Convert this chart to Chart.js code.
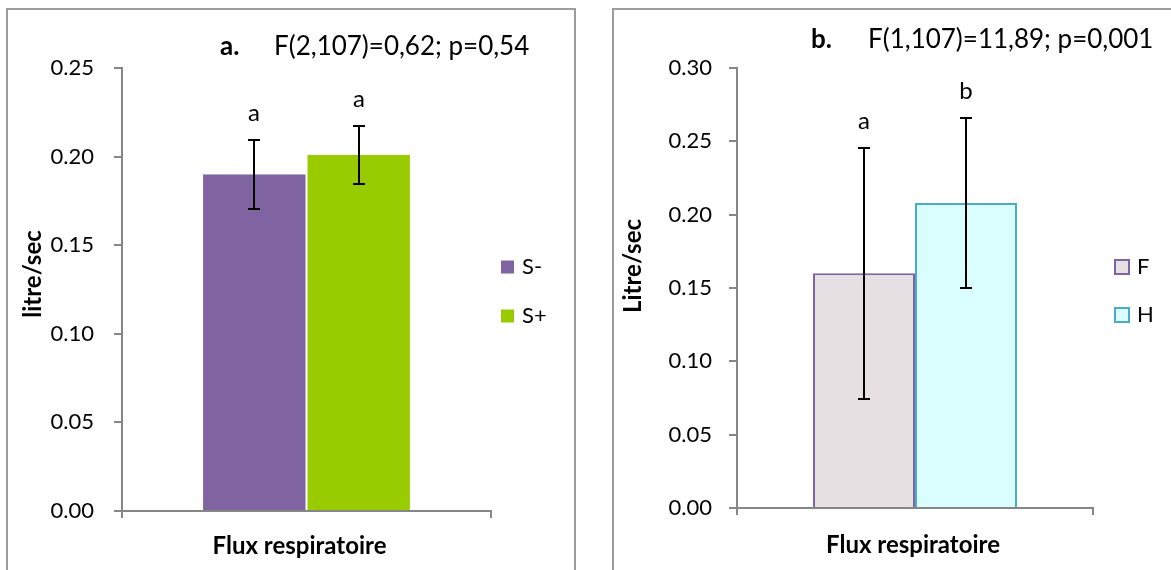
<!DOCTYPE html>
<html><head><meta charset="utf-8">
<script src="https://cdn.jsdelivr.net/npm/chart.js@4.4.1/dist/chart.umd.min.js"></script>
<style>
html,body{margin:0;padding:0;background:#fff;width:1171px;height:570px;overflow:hidden;position:relative;}
.frame{position:absolute;border:2px solid #9c9c9c;box-sizing:border-box;}
#fa{left:6px;top:8px;width:570px;height:600px;}
#fb{left:612px;top:8px;width:600px;height:600px;}
.wrap{position:absolute;top:0;height:570px;}
#wa{left:0;width:590px;}
#wb{left:595px;width:576px;}
canvas{display:block;}
</style></head><body>
<div class="frame" id="fa"></div><div class="frame" id="fb"></div>
<div class="wrap" id="wa"><canvas id="ca" width="590" height="570"></canvas></div>
<div class="wrap" id="wb"><canvas id="cb" width="576" height="570"></canvas></div>
<script>
// ---- data ----
const categories = ['Flux respiratoire'];

const seriesA = ['S-', 'S+'];
const valuesA = [0.190, 0.201];
const errorsA = [0.0195, 0.0165];
const lettersA = ['a', 'a'];
const yTicksA = ['0.00', '0.05', '0.10', '0.15', '0.20', '0.25'];
const titleA = ['a.', 'F(2,107)=0,62; p=0,54'];
const yTitleA = 'litre/sec';

const seriesB = ['F', 'H'];
const valuesB = [0.160, 0.208];
const errorsB = [0.0855, 0.058];
const lettersB = ['a', 'b'];
const yTicksB = ['0.00', '0.05', '0.10', '0.15', '0.20', '0.25', '0.30'];
const titleB = ['b.', 'F(1,107)=11,89; p=0,001'];
const yTitleB = 'Litre/sec';

// ---- styling ----
const FONT = 'Lato';
Chart.defaults.font.family = FONT;
Chart.defaults.font.size = 21;
Chart.defaults.color = '#000';
const AXIS = '#868686';

const decoPlugin = {
  id: 'deco',
  afterDatasetsDraw(chart, args, o) {
    const ctx = chart.ctx, y = chart.scales.y;
    ctx.save();
    // error bars + letters
    chart.data.datasets.forEach((ds, i) => {
      const bar = chart.getDatasetMeta(i).data[0];
      const v = ds.data[0], e = o.errors[i];
      const top = Math.round(y.getPixelForValue(v + e)), bot = Math.round(y.getPixelForValue(v - e));
      const x = Math.round(bar.x);
      ctx.strokeStyle = '#000'; ctx.lineWidth = 2;
      ctx.beginPath();
      ctx.moveTo(x, top); ctx.lineTo(x, bot);
      ctx.moveTo(x - 6, top); ctx.lineTo(x + 6, top);
      ctx.moveTo(x - 6, bot); ctx.lineTo(x + 6, bot);
      ctx.stroke();
      ctx.fillStyle = '#000';
      ctx.font = '24px ' + FONT;
      ctx.textAlign = 'center'; ctx.textBaseline = 'alphabetic';
      ctx.fillText(o.letters[i], x, top - 19);
    });
    // title
    ctx.textBaseline = 'middle'; ctx.textAlign = 'left';
    ctx.font = 'bold 26px ' + FONT;
    ctx.fillText(o.title[0], o.titlePos[0], o.titlePos[2]);
    ctx.font = '26px ' + FONT;
    ctx.fillText(o.title[1], o.titlePos[1], o.titlePos[2]);
    // y title
    ctx.save();
    ctx.translate(o.yTitlePos[0], o.yTitlePos[1]);
    ctx.rotate(-Math.PI / 2);
    ctx.textAlign = 'center'; ctx.textBaseline = 'middle';
    ctx.font = 'bold 24px ' + FONT;
    ctx.fillText(o.yTitle, 0, 0);
    ctx.restore();
    // legend
    chart.data.datasets.forEach((ds, i) => {
      const cy = o.legend.y0 + i * o.legend.dy;
      const s = o.legend.size;
      ctx.fillStyle = ds.backgroundColor;
      ctx.fillRect(o.legend.x, cy - s / 2, s, s);
      if (o.legend.stroke) {
        ctx.strokeStyle = ds.borderColor; ctx.lineWidth = 2;
        ctx.strokeRect(o.legend.x + 1, cy - s / 2 + 1, s - 2, s - 2);
      }
      ctx.fillStyle = '#000';
      ctx.font = '22px ' + FONT;
      ctx.textAlign = 'left'; ctx.textBaseline = 'middle';
      ctx.fillText(ds.label, o.legend.tx, cy);
    });
    ctx.restore();
  }
};

function scalesFor(yTicks, max, yWidth, xHeight, tickPad, labelPad, labelOffset) {
  return {
    x: {
      offset: true,
      grid: { offset: true, drawOnChartArea: false, drawTicks: true, tickLength: 7, color: AXIS, lineWidth: 2 },
      border: { display: true, color: AXIS, width: 2 },
      ticks: { font: { size: 24, weight: 'bold' }, color: '#000', padding: labelPad, labelOffset: labelOffset, maxRotation: 0 },
      afterFit(s) { s.height = xHeight; }
    },
    y: {
      min: 0, max: max,
      ticks: { stepSize: 0.05, padding: tickPad, color: '#000', font: { size: 22 }, callback: (v, i) => yTicks[i] },
      grid: { drawOnChartArea: false, tickLength: 8, color: AXIS, lineWidth: 2 },
      border: { display: true, color: AXIS, width: 2 },
      afterFit(s) { s.width = yWidth; }
    }
  };
}

new Chart(document.getElementById('ca'), {
  type: 'bar',
  data: {
    labels: categories,
    datasets: [
      { label: seriesA[0], data: [valuesA[0]], backgroundColor: '#8064A2', borderColor: '#ffffff', borderWidth: { left: 1, right: 1, top: 0, bottom: 0 } },
      { label: seriesA[1], data: [valuesA[1]], backgroundColor: '#99CC00', borderColor: '#ffffff', borderWidth: { left: 1, right: 1, top: 0, bottom: 0 } }
    ]
  },
  options: {
    responsive: false, animation: false, devicePixelRatio: 1,
    categoryPercentage: 0.566, barPercentage: 1,
    layout: { padding: { left: 0, right: 99, top: 68, bottom: 0 } },
    scales: scalesFor(yTicksA, 0.25, 122, 59, 20, 14, -7),
    plugins: {
      legend: { display: false }, tooltip: { enabled: false },
      deco: {
        errors: errorsA, letters: lettersA, title: titleA, titlePos: [220, 274, 47],
        yTitle: yTitleA, yTitlePos: [33, 274],
        legend: { x: 501, y0: 267, dy: 49, size: 13, tx: 522, stroke: false }
      }
    }
  },
  plugins: [decoPlugin]
});

new Chart(document.getElementById('cb'), {
  type: 'bar',
  data: {
    labels: categories,
    datasets: [
      { label: seriesB[0], data: [valuesB[0]], backgroundColor: '#E6E0E2', borderColor: '#8064A2', borderWidth: 2 },
      { label: seriesB[1], data: [valuesB[1]], backgroundColor: '#DAFEFE', borderColor: '#4BACC6', borderWidth: 2 }
    ]
  },
  options: {
    responsive: false, animation: false, devicePixelRatio: 1,
    categoryPercentage: 0.573, barPercentage: 1,
    layout: { padding: { left: 0, right: 78, top: 68, bottom: 0 } },
    scales: scalesFor(yTicksB, 0.30, 142, 62, 17, 16, -2),
    plugins: {
      legend: { display: false }, tooltip: { enabled: false },
      deco: {
        errors: errorsB, letters: lettersB, title: titleB, titlePos: [216, 273, 40],
        yTitle: yTitleB, yTitlePos: [38, 266],
        legend: { x: 519, y0: 267, dy: 48, size: 16, tx: 542, stroke: true }
      }
    }
  },
  plugins: [decoPlugin]
});
</script>
</body></html>
